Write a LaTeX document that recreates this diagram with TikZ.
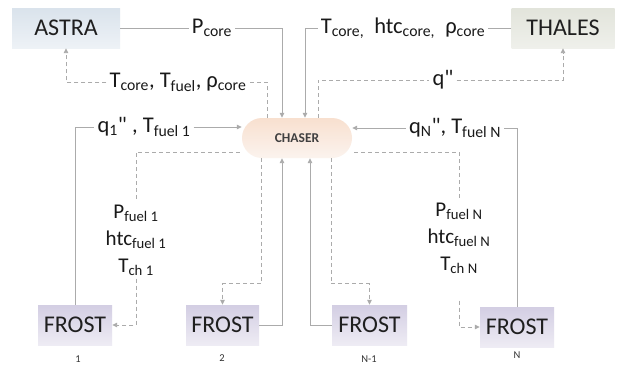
\documentclass[tikz,border=0pt]{standalone}
\usepackage{fontspec}
\setmainfont{Carlito}[Ligatures=TeXOff]
\usetikzlibrary{arrows.meta,shapes.misc,calc}

\definecolor{wire}{HTML}{ABABAB}
\definecolor{astraTop}{HTML}{DAE3EC}
\definecolor{astraBot}{HTML}{EEF2F6}
\definecolor{thalesTop}{HTML}{E2E4DB}
\definecolor{thalesBot}{HTML}{EFF0EB}
\definecolor{frostTop}{HTML}{D3CEE3}
\definecolor{frostBot}{HTML}{EEECF4}
\definecolor{chaserTop}{HTML}{F8E0CF}
\definecolor{chaserBot}{HTML}{FBF3EE}

\tikzset{
  codebox/.style={minimum height=40pt, inner sep=0pt, text=black!88,
    font=\fontsize{24}{28}\selectfont},
  wireline/.style={draw=wire, line width=0.95pt},
  link/.style={wireline, -{Triangle[length=5pt,width=4.5pt]}},
  dashlink/.style={link, dash pattern=on 4pt off 3pt},
  dashline/.style={wireline, dash pattern=on 4pt off 3pt},
  lbl/.style={font=\fontsize{22.5}{27}\selectfont, inner sep=3pt, text=black!90},
  stack/.style={lbl, align=center, font=\fontsize{21}{27}\selectfont},
  idx/.style={font=\fontsize{10.5}{12}\selectfont, text=black!80, inner sep=1pt}
}

\begin{document}
\begin{tikzpicture}[x=1pt, y=-1pt]
\useasboundingbox[fill=white] (0,0) rectangle (620,367);

% codes
\node[codebox, minimum width=108pt, top color=astraTop, bottom color=astraBot] (astra) at (66,28) {ASTRA};
\node[codebox, minimum width=103pt, top color=thalesTop, bottom color=thalesBot] (thales) at (563,28) {THALES};
\node[rounded rectangle, minimum width=110pt, minimum height=40pt, inner sep=0pt,
      top color=chaserTop, bottom color=chaserBot, text=black!75,
      font=\fontsize{13.5}{15}\selectfont\bfseries] (chaser) at (297,138) {CHASER};

\node[codebox, minimum width=74pt, top color=frostTop, bottom color=frostBot] (frost1) at (75,325) {FROST};
\node[codebox, minimum width=73pt, top color=frostTop, bottom color=frostBot] (frost2) at (222.5,325) {FROST};
\node[codebox, minimum width=75pt, top color=frostTop, bottom color=frostBot] (frostm) at (369.5,325) {FROST};
\node[codebox, minimum width=74pt, top color=frostTop, bottom color=frostBot] (frostn) at (517,327) {FROST};

\node[idx] (i1) at (78,359) {1};
\node[idx] (i2) at (222,358) {2};
\node[idx] (im) at (369,359) {N-1};
\node[idx] (in) at (517,355) {N};

% exchanged quantities
\node[lbl] (pcore) at (212,28) {P\textsubscript{core}};
\node[lbl] (thin) at (403,28) {T\textsubscript{core,}\ \ htc\textsubscript{core,}\ \ ρ\textsubscript{core}};
\node[lbl] (astin) at (178,82) {T\textsubscript{core}, T\textsubscript{fuel}, ρ\textsubscript{core}};
\node[lbl] (qflux) at (443,80) {q"};
\node[lbl] (q1) at (144,127) {q\textsubscript{1}" , T\textsubscript{fuel 1}};
\node[lbl] (qn) at (455,128) {q\textsubscript{N}", T\textsubscript{fuel N}};
\node[stack] (lab1) at (136,240) {P\textsubscript{fuel 1}\\htc\textsubscript{fuel 1}\\T\textsubscript{ch 1}};
\node[stack] (labn) at (459,238) {P\textsubscript{fuel N}\\htc\textsubscript{fuel N}\\T\textsubscript{ch N}};

% ASTRA / THALES coupling
\draw[wireline] (astra.east) -- (pcore.west);
\draw[link] (pcore.east) -| ([xshift=-15pt]chaser.north);
\draw[wireline] (thales.west) -- (thin.east);
\draw[link] (thin.west) -| ([xshift=8pt]chaser.north);
\draw[dashline] ([xshift=-30pt]chaser.north) |- (astin.east);
\draw[dashlink] (astin.west) -| (astra.south);
\draw[dashline] ([xshift=21pt]chaser.north) |- (qflux.west);
\draw[dashlink] (qflux.east) -| (thales.south);

% FROST 1 and N
\draw[wireline] (frost1.north) |- (q1.west);
\draw[link] (q1.east) -- (q1.east -| chaser.west);
\draw[wireline] (frostn.north) |- (qn.east);
\draw[link] (qn.west) -- (qn.west -| chaser.east);
\draw[dashline] ([yshift=-14pt,xshift=-2pt]chaser.west) -| (lab1.north);
\draw[dashlink] (lab1.south) |- (frost1.east);
\draw[dashline] ([yshift=-14pt,xshift=2pt]chaser.east) -| (labn.north);
\draw[dashlink] ([yshift=-24pt]labn.south) |- (frostn.west);

% FROST 2 and N-1
\draw[dashlink] ([xshift=-36pt]chaser.south) |- ([yshift=21pt]frost2.north) -- (frost2.north);
\draw[link] (frost2.east) -| ([xshift=-15pt]chaser.south);
\draw[link] (frostm.west) -| ([xshift=13pt]chaser.south);
\draw[dashlink] ([xshift=34pt]chaser.south) |- ([yshift=21pt]frostm.north) -- (frostm.north);
\end{tikzpicture}
\end{document}
